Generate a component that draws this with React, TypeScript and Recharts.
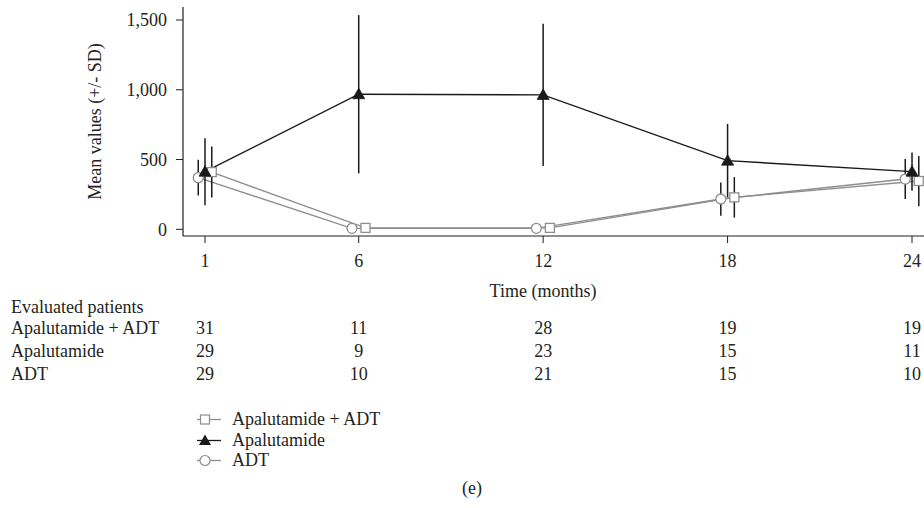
import React from 'react';
import { LineChart, Line, XAxis, YAxis, ErrorBar, Customized } from 'recharts';

const months = [1, 6, 12, 18, 24];
const yTicks = [0, 500, 1000, 1500];

const apalAdtMean = [410, 10, 10, 229, 346];
const apalAdtSD = [183, 0, 0, 145, 180];
const apalMean = [413, 968, 963, 492, 413];
const apalSD = [240, 567, 510, 263, 137];
const adtMean = [370, 7, 7, 217, 360];
const adtSD = [128, 0, 0, 119, 143];

const nApalAdt = [31, 11, 28, 19, 19];
const nApal = [29, 9, 23, 15, 11];
const nAdt = [29, 10, 21, 15, 10];

const seriesNames = ['Apalutamide + ADT', 'Apalutamide', 'ADT'];

const JITTER = 0.22;
const FONT = "'Liberation Serif', 'Times New Roman', serif";
const FS = 18;
const TXT = '#231f20';
const GREY = '#8e8e8e';
const BLACK = '#1a1a1a';

const build = (mean: number[], sd: number[], off: number) =>
  months.map((m, i) => ({ x: m + off, y: mean[i], sd: sd[i] }));

const adtData = build(adtMean, adtSD, -JITTER);
const apalAdtData = build(apalAdtMean, apalAdtSD, JITTER);
const apalData = build(apalMean, apalSD, 0);

const SquareDot = (p: any) => {
  const { cx, cy } = p;
  if (cx == null || cy == null) return null;
  return <rect key={`s${cx}`} x={cx - 4.5} y={cy - 4.5} width={9} height={9} fill="#fff" stroke={GREY} strokeWidth={1.3} />;
};
const CircleDot = (p: any) => {
  const { cx, cy } = p;
  if (cx == null || cy == null) return null;
  return <circle key={`c${cx}`} cx={cx} cy={cy} r={5} fill="#fff" stroke={GREY} strokeWidth={1.3} />;
};
const TriDot = (p: any) => {
  const { cx, cy } = p;
  if (cx == null || cy == null) return null;
  return <path key={`t${cx}`} d={`M${cx - 6},${cy + 4.5} L${cx + 6},${cy + 4.5} L${cx},${cy - 6} Z`} fill={BLACK} stroke={BLACK} strokeWidth={0.8} />;
};

const XTick = (props: any) => {
  const { x, y, payload } = props;
  const i = months.indexOf(payload.value);
  const rows = [nApalAdt, nApal, nAdt];
  return (
    <g fontFamily={FONT} fontSize={FS} fill={TXT}>
      <text x={x} y={y + 24} textAnchor="middle">{payload.value}</text>
      {rows.map((r, k) => (
        <text key={k} x={x} y={y + 91 + k * 23} textAnchor="middle">{i >= 0 ? r[i] : ''}</text>
      ))}
    </g>
  );
};

const Extras = () => {
  const legendY = [425, 446, 466];
  const markers = [
    (cx: number, cy: number) => <rect x={cx - 4.5} y={cy - 4.5} width={9} height={9} fill="#fff" stroke={GREY} strokeWidth={1.2} />,
    (cx: number, cy: number) => <path d={`M${cx - 6},${cy + 4.5} L${cx + 6},${cy + 4.5} L${cx},${cy - 6} Z`} fill={BLACK} />,
    (cx: number, cy: number) => <circle cx={cx} cy={cy} r={5} fill="#fff" stroke={GREY} strokeWidth={1.2} />,
  ];
  const lineCol = [GREY, BLACK, GREY];
  return (
    <g fontFamily={FONT} fontSize={FS} fill={TXT}>
      <text x={543} y={297} textAnchor="middle">Time (months)</text>
      <text x={11} y={313}>Evaluated patients</text>
      {seriesNames.map((n, k) => (
        <text key={n} x={11} y={334 + k * 23}>{n}</text>
      ))}
      {seriesNames.map((n, k) => {
        const cy = legendY[k] - 5.5;
        return (
          <g key={`lg${k}`}>
            <line x1={197} x2={221} y1={cy} y2={cy} stroke={lineCol[k]} strokeWidth={1.3} />
            {markers[k](205, cy)}
            <text x={232} y={legendY[k]}>{n}</text>
          </g>
        );
      })}
      <text x={472} y={494} textAnchor="middle">(e)</text>
    </g>
  );
};

export default function App() {
  return (
    <div style={{ position: 'absolute', left: 0, top: 0, width: 924, height: 508, background: '#fff' }}>
      <LineChart width={924} height={508} margin={{ top: 7, right: 0, left: 83, bottom: 232 }}>
        <XAxis
          type="number"
          dataKey="x"
          domain={[0.284, 24.39]}
          allowDataOverflow
          ticks={months}
          height={40}
          tickSize={7}
          tickMargin={0}
          stroke={TXT}
          tickLine={{ stroke: TXT }}
          axisLine={{ stroke: TXT, strokeWidth: 1.2 }}
          tick={<XTick />}
          interval={0}
        />
        <YAxis
          type="number"
          domain={[-48, 1593]}
          allowDataOverflow
          ticks={yTicks}
          width={100}
          tickSize={7}
          tickMargin={9}
          tickFormatter={(v: number) => v.toLocaleString('en-US')}
          tick={{ fontFamily: FONT, fontSize: FS, fill: TXT }}
          axisLine={{ stroke: TXT, strokeWidth: 1.2 }}
          tickLine={{ stroke: TXT }}
          label={{ value: 'Mean values (+/- SD)', angle: -90, position: 'insideLeft', offset: 12, style: { textAnchor: 'middle', fontFamily: FONT, fontSize: FS, fill: TXT } }}
        />
        <Line data={adtData} dataKey="y" stroke={GREY} strokeWidth={1.4} dot={<CircleDot />} isAnimationActive={false} />
        <Line data={apalAdtData} dataKey="y" stroke={GREY} strokeWidth={1.4} dot={<SquareDot />} isAnimationActive={false} />
        <Line data={apalData} dataKey="y" stroke={BLACK} strokeWidth={1.4} dot={<TriDot />} isAnimationActive={false} />
        <Line data={adtData} dataKey="y" stroke="none" dot={false} activeDot={false} isAnimationActive={false}>
          <ErrorBar dataKey="sd" direction="y" width={0} stroke={BLACK} strokeWidth={1.5} isAnimationActive={false} />
        </Line>
        <Line data={apalAdtData} dataKey="y" stroke="none" dot={false} activeDot={false} isAnimationActive={false}>
          <ErrorBar dataKey="sd" direction="y" width={0} stroke={BLACK} strokeWidth={1.5} isAnimationActive={false} />
        </Line>
        <Line data={apalData} dataKey="y" stroke="none" dot={false} activeDot={false} isAnimationActive={false}>
          <ErrorBar dataKey="sd" direction="y" width={0} stroke={BLACK} strokeWidth={1.5} isAnimationActive={false} />
        </Line>
        <Customized component={Extras} />
      </LineChart>
    </div>
  );
}
